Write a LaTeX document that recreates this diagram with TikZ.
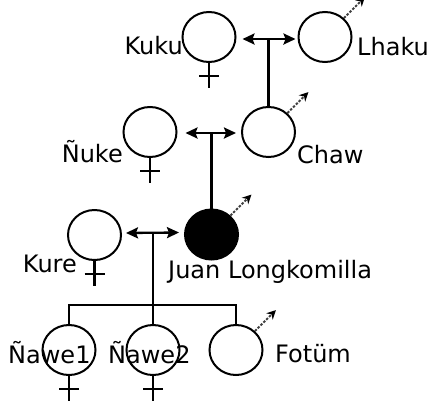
\documentclass[tikz,border=0pt]{standalone}
\usepackage{fontspec}
\setmainfont{DejaVu Sans}
\usetikzlibrary{shapes.geometric,arrows.meta}
\begin{document}
\begin{tikzpicture}[x=1pt,y=-1pt,
  person/.style={ellipse,draw,line width=2pt,minimum width=53pt,minimum height=50pt,inner sep=0pt},
  lbl/.style={inner sep=0pt,font=\fontsize{24}{28}\selectfont},
  marriage/.style={line width=2.3pt,{Stealth[length=12pt,width=11pt,inset=2pt]}-{Stealth[length=12pt,width=11pt,inset=2pt]}},
  link/.style={line width=2.3pt},
  malearrow/.style={line width=2pt,dash pattern=on 2.5pt off 1.5pt,gray!50!black,-{Stealth[length=9pt,width=9pt,black]}},
  fem/.style={line width=2.3pt}]
\useasboundingbox (0,0) rectangle (430,402);
% persons
\node[person] (kuku) at (209,37) {};
\node[person] (lhaku) at (325,37) {};
\node[person] (nuke) at (150,132) {};
\node[person] (chaw) at (268.5,132) {};
\node[person] (kure) at (94.5,235) {};
\node[person,fill=black] (juan) at (211.5,234.5) {};
\node[person] (nawe1) at (69,350) {};
\node[person] (nawe2) at (153,350) {};
\node[person] (fotum) at (236,350) {};
% labels
\node[lbl,anchor=base east] (tkuku) at (183,54) {Kuku};
\node[lbl,anchor=base west] (tlhaku) at (357,55) {Lhaku};
\node[lbl,anchor=base east] (tnuke) at (123,162) {Ñuke};
\node[lbl,anchor=base west] (tchaw) at (297,163) {Chaw};
\node[lbl,anchor=base east] (tkure) at (77,272) {Kure};
\node[lbl,anchor=base west] (tjuan) at (168,278) {Juan Longkomilla};
\node[lbl,anchor=base west] (tnawe1) at (8,363) {Ñawe1};
\node[lbl,anchor=base west] (tnawe2) at (108,363) {Ñawe2};
\node[lbl,anchor=base west] (tfotum) at (275,362) {Fotüm};
% marriages
\draw[marriage] ([xshift=6pt,yshift=-2pt]kuku.east) -- ([xshift=-2pt,yshift=-2pt]lhaku.west);
\draw[link] (chaw.north) -- (chaw.north |- 0,39);
\draw[marriage] ([xshift=8pt,yshift=-1pt]nuke.east) -- ([xshift=-5pt,yshift=-1pt]chaw.west);
\draw[link] (juan.north) -- (juan.north |- 0,133);
\draw[marriage] ([xshift=4pt,yshift=2pt]kure.east) -- ([xshift=-5pt,yshift=2pt]juan.west);
\coordinate (m3) at (153,233);
\coordinate (bar) at (153,305);
\draw[link] (m3) -- (bar);
\draw[link] (nawe1.north) |- (bar) -| (fotum.north);
\draw[link] (nawe2.north) -- (bar);
% female symbols
\foreach \n in {kuku,nuke,kure,nawe1,nawe2}{
  \draw[fem] (\n.south) -- ++(0,25);
  \draw[fem] ([xshift=-10pt,yshift=-13pt]\n.south) -- ++(20,0);
}
% male symbols
\foreach \n in {lhaku,chaw,juan,fotum}{
  \draw[malearrow] (\n.45) -- ++(21,-21);
}
\end{tikzpicture}
\end{document}
